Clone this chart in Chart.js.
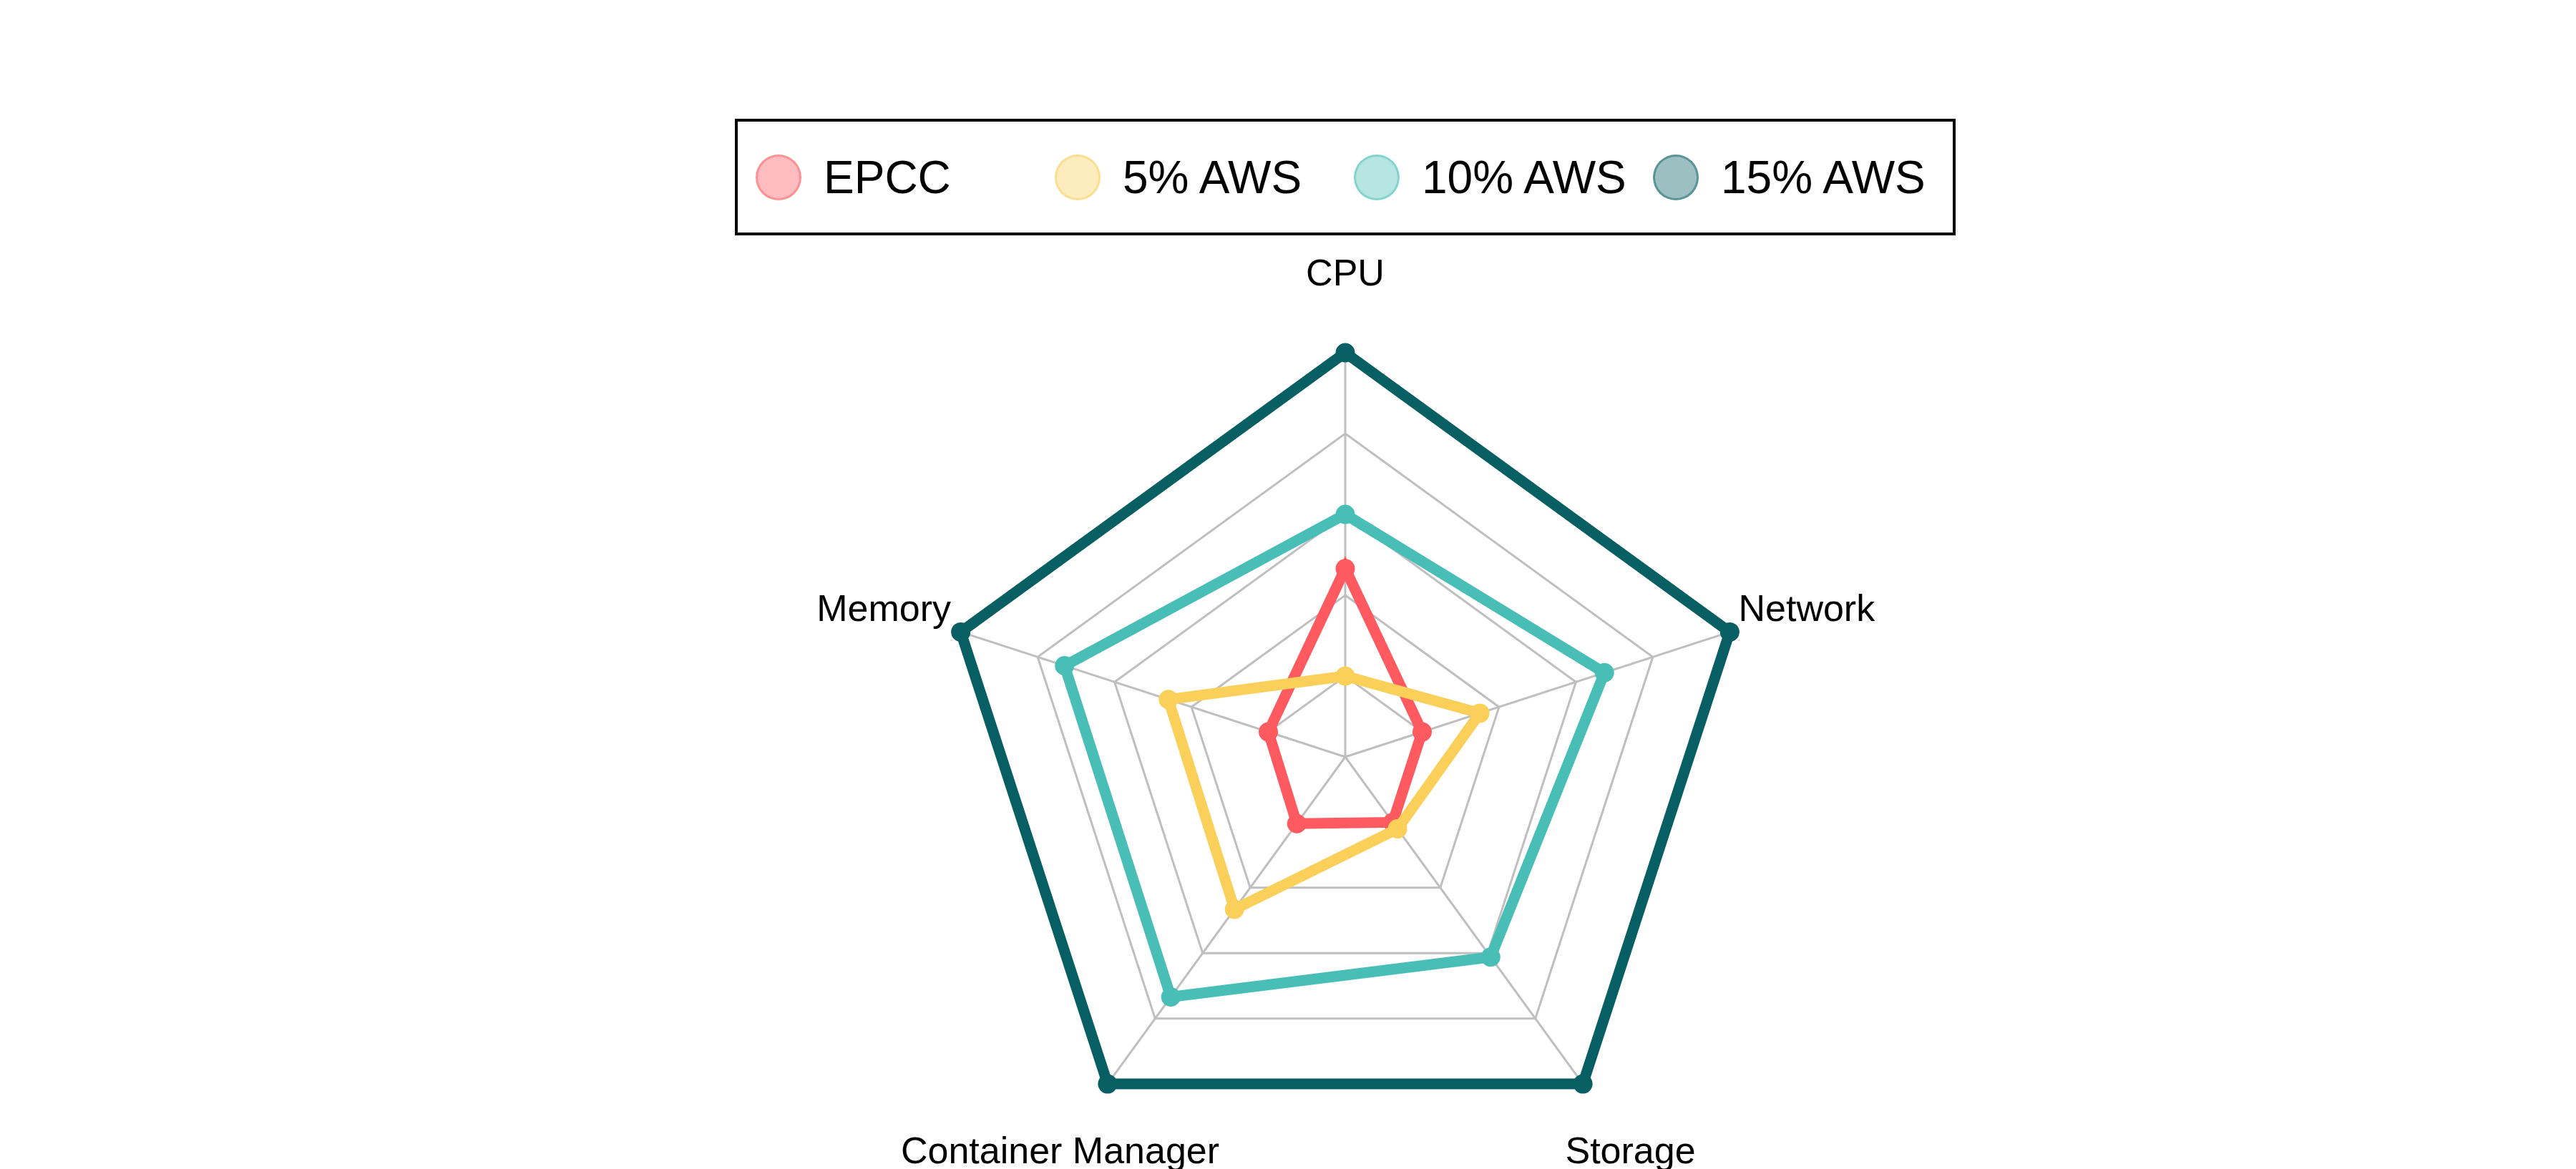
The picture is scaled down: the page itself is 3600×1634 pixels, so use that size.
<!DOCTYPE html>
<html>
<head>
<meta charset="utf-8">
<script src="https://cdn.jsdelivr.net/npm/chart.js@4/dist/chart.umd.min.js"></script>
<style>
  html, body { margin: 0; padding: 0; background: #ffffff; }
  #wrap { position: relative; width: 3600px; height: 1634px; overflow: hidden; }
  #chart { position: absolute; left: 0; top: 0; }
  #legend {
    position: absolute; left: 1027px; top: 166px; width: 1706px; height: 163px;
    box-sizing: border-box; border: 4px solid #000; background: #fff;
    font-family: "Liberation Sans", Arial, sans-serif; font-size: 64px; color: #000;
  }
  .item { position: absolute; top: 0; height: 100%; display: flex; align-items: center; white-space: nowrap; }
  .dot { width: 58px; height: 58px; border-radius: 50%; border: 3px solid; margin-right: 31px; }
</style>
</head>
<body>
<div id="wrap">
  <canvas id="chart" width="3600" height="1634"></canvas>
  <div id="legend"></div>
</div>
<script>
// ---- data ----
const categories = ["CPU", "Network", "Storage", "Container Manager", "Memory"];
const seriesNames = ["EPCC", "5% AWS", "10% AWS", "15% AWS"];
const epcc   = [2.33, 1.0, 1.0, 1.02, 1.0];
const aws5   = [1.0, 1.75, 1.1, 2.33, 2.3];
const aws10  = [3.0, 3.37, 3.06, 3.67, 3.65];
const aws15  = [5, 5, 5, 5, 5];
const scaleTicks = [0, 1, 2, 3, 4, 5];

// ---- styles ----
const colors = ["#FF5A5F", "#FACF5A", "#49BEB7", "#085F63"];
const drawOrder = [1, 0, 2, 3];
const seriesValues = [epcc, aws5, aws10, aws15];

function rgba(hex, a) {
  const n = parseInt(hex.slice(1), 16);
  return `rgba(${(n >> 16) & 255},${(n >> 8) & 255},${n & 255},${a})`;
}

const datasets = seriesNames.map((name, i) => ({
  label: name,
  data: seriesValues[i],
  borderColor: colors[i],
  backgroundColor: colors[i],
  pointBackgroundColor: colors[i],
  pointBorderColor: colors[i],
  pointBorderWidth: 0,
  pointRadius: 13.5,
  pointHoverRadius: 13.5,
  borderWidth: 15,
  fill: false,
  tension: 0,
  order: drawOrder[i],
  clip: false
}));

const axisLabelPlugin = {
  id: 'axisLabels',
  afterDraw(chart) {
    const scale = chart.scales.r;
    const ctx = chart.ctx;
    const labelValue = scaleTicks[scaleTicks.length - 1] + (scaleTicks[1] - scaleTicks[0]);
    ctx.save();
    ctx.font = '52px "Liberation Sans", Arial, sans-serif';
    ctx.fillStyle = '#000';
    ctx.textAlign = 'center';
    ctx.textBaseline = 'middle';
    chart.data.labels.forEach((lab, i) => {
      const p = scale.getPointPositionForValue(i, labelValue);
      ctx.fillText(lab, p.x, p.y + 5);
    });
    ctx.restore();
  }
};

const chart = new Chart(document.getElementById('chart'), {
  type: 'radar',
  data: { labels: categories, datasets },
  options: {
    responsive: false,
    animation: false,
    devicePixelRatio: 1,
    layout: { padding: { left: 1315, right: 1155, top: 493, bottom: 11 } },
    plugins: { legend: { display: false }, tooltip: { enabled: false } },
    elements: { line: { tension: 0 } },
    scales: {
      r: {
        min: scaleTicks[0],
        max: scaleTicks[scaleTicks.length - 1],
        ticks: { display: false, stepSize: scaleTicks[1] - scaleTicks[0] },
        grid: { color: '#bfbfbf', lineWidth: 3 },
        angleLines: { color: '#bfbfbf', lineWidth: 3 },
        pointLabels: { display: false }
      }
    }
  },
  plugins: [axisLabelPlugin]
});

// HTML legend built from the datasets
const legend = document.getElementById('legend');
chart.data.datasets.forEach((ds, i) => {
  const item = document.createElement('div');
  item.className = 'item';
  item.style.left = (25 + i * 418) + 'px';
  const dot = document.createElement('span');
  dot.className = 'dot';
  dot.style.background = rgba(ds.borderColor, 0.4);
  dot.style.borderColor = rgba(ds.borderColor, 0.45);
  const txt = document.createElement('span');
  txt.textContent = ds.label;
  item.appendChild(dot);
  item.appendChild(txt);
  legend.appendChild(item);
});
</script>
</body>
</html>
